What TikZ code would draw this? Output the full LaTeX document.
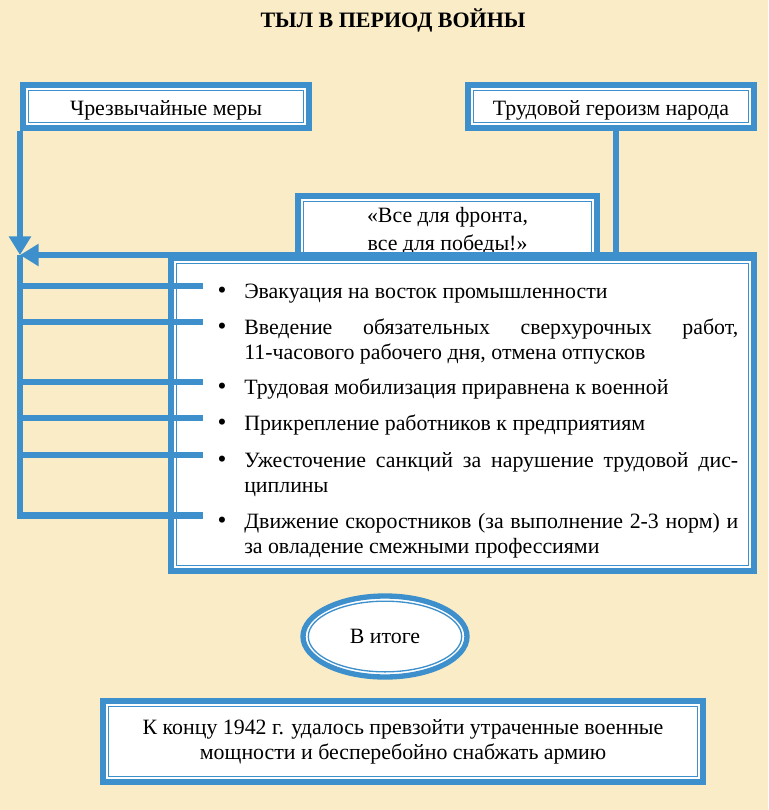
\documentclass[tikz,border=0pt]{standalone}
\usepackage{fontspec}
\setmainfont{LiberationSerif}[Extension=.ttf, UprightFont=*-Regular, BoldFont=*-Bold, ItalicFont=*-Italic]
\usetikzlibrary{arrows.meta,shapes.geometric}

\definecolor{frameblue}{RGB}{62,144,204}
\definecolor{parchment}{RGB}{249,236,198}

\newcommand{\bodyfont}{\fontsize{16.4}{18.8}\selectfont}
\newcommand{\bitem}[1]{\makebox[21pt][l]{\hspace{1pt}{\fontsize{19}{19}\selectfont\textbullet}}\parbox[t]{370.5pt}{\strut#1}}

\tikzset{
  framebox/.style={draw=frameblue, line width=4.5pt, fill=white, inner sep=0pt,
    path picture={\draw[frameblue, line width=1pt]
      ([shift={(4.3pt,-4.3pt)}]path picture bounding box.north west) rectangle
      ([shift={(-4.3pt,4.3pt)}]path picture bounding box.south east);}},
  headbox/.style={framebox, minimum width=214.5pt, minimum height=32.25pt, text height=14pt, text depth=0pt},
  link/.style={frameblue, line width=5pt, line join=miter},
  branch/.style={frameblue, line width=4.5pt},
  tip/.style={-{Triangle[length=14pt,width=16pt]}},
  item/.style={anchor=north west, inner sep=0pt}
}

\begin{document}
\begin{tikzpicture}[every node/.style={font=\bodyfont}, x=0.75pt, y=-0.75pt]
	\fill[parchment] (0,0) rectangle (768,810);
	\useasboundingbox (0,0) rectangle (768,810);
	\node[font=\fontsize{16.5}{19}\selectfont\bfseries, anchor=base] (title) at (393,27) {ТЫЛ В ПЕРИОД ВОЙНЫ};
	% top row
	\node[headbox] (mery) at (166,106.5) {Чрезвычайные меры};
	\node[headbox] (geroizm) at (611,106.5) {Трудовой героизм народа};
	\node[framebox, minimum width=224.25pt, minimum height=52.5pt, align=center] (slogan) at (447.5,231) {«Все для фронта,\\[2pt]все для победы!»};
	% list of measures
	\node[framebox, minimum width=437.25pt, minimum height=234.75pt] (bigbox) at (462.5,414.5) {};
	\coordinate (corner) at (mery.south west |- bigbox.north);
	\coordinate (gdrop) at ([shift={(5,0)}]geroizm.south);
	\draw[link] (gdrop) -- (gdrop |- bigbox.north);
	\draw[link, tip] (bigbox.north east) -- (corner);
	\draw[link, tip] (mery.south west) -- (corner);
	\foreach \n/\t/\txt in {1/281/{Эвакуация на восток промышленности},
		2/317/{Введение обязательных сверхурочных работ,\linebreak 11-часового рабочего дня, отмена отпусков},
		3/377/{Трудовая мобилизация приравнена к военной},
		4/413/{Прикрепление работников к предприятиям},
		5/450/{Ужесточение санкций за нарушение трудовой дис-\linebreak циплины},
		6/511/{Движение скоростников (за выполнение 2-3 норм) и\linebreak за овладение смежными профессиями}}
	{
		\node[item] (i\n) at (216,\t) {\bitem{\txt}};
		\coordinate (b\n) at ([shift={(-13,4.5)}]i\n.north west);
	}
	\foreach \n in {1,...,5} {\draw[branch] (corner |- b\n) -- (b\n);}
	\draw[link] (corner) -- (corner |- b6) -- (b6);
	% result
	\node[ellipse, draw=frameblue, line width=4pt, fill=white, inner sep=0pt, minimum width=123pt, minimum height=60.75pt] (itog) at (385,636.5) {В итоге};
	\draw[frameblue, line width=1pt] (itog.center) ellipse [x radius=57.5pt, y radius=26.5pt];
	\node[framebox, minimum width=450pt, minimum height=60.75pt, align=center] (result) at (403,741.5) {К концу 1942 г. удалось превзойти утраченные военные\\мощности и бесперебойно снабжать армию};
\end{tikzpicture}
\end{document}
